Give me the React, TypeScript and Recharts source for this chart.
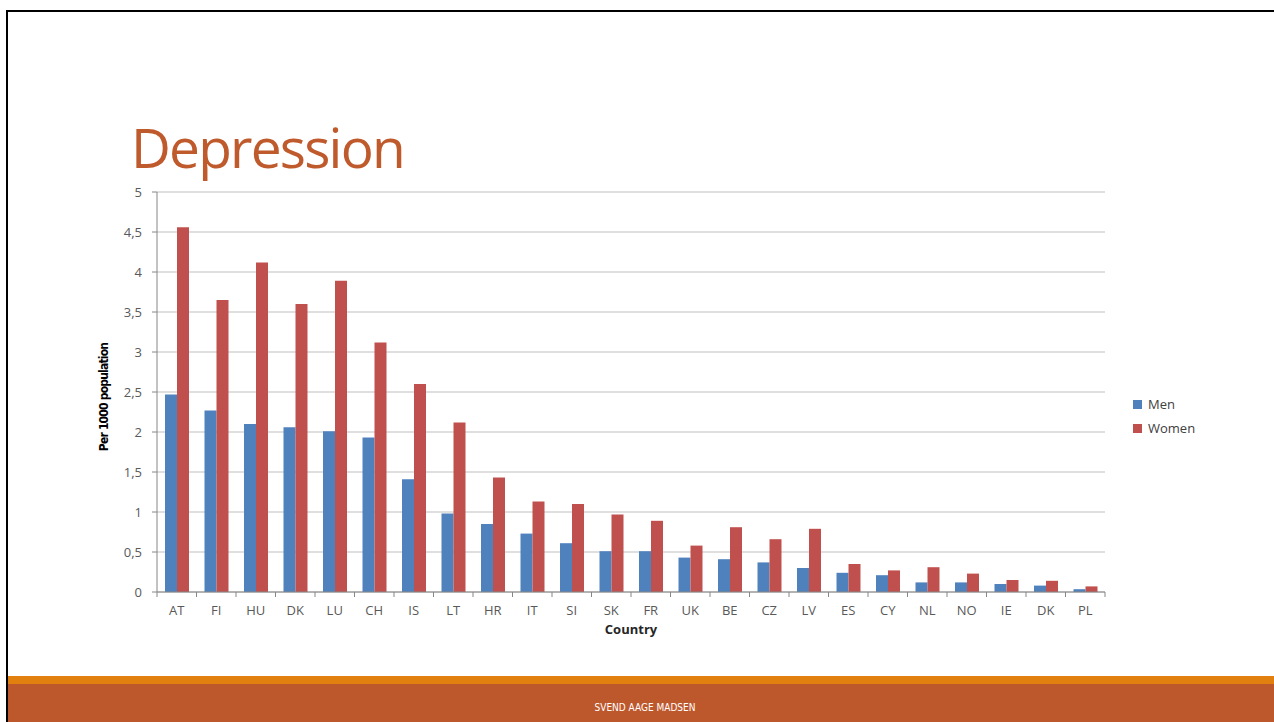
import { BarChart, Bar, XAxis, YAxis, CartesianGrid, Label } from 'recharts'

const COUNTRIES = [
  'AT', 'FI', 'HU', 'DK', 'LU', 'CH', 'IS', 'LT', 'HR', 'IT', 'SI', 'SK',
  'FR', 'UK', 'BE', 'CZ', 'LV', 'ES', 'CY', 'NL', 'NO', 'IE', 'DK', 'PL',
]
const MEN = [
  2.47, 2.27, 2.1, 2.06, 2.01, 1.93, 1.41, 0.98, 0.85, 0.73, 0.61, 0.51,
  0.51, 0.43, 0.41, 0.37, 0.3, 0.24, 0.21, 0.12, 0.12, 0.1, 0.08, 0.035,
]
const WOMEN = [
  4.56, 3.65, 4.12, 3.6, 3.89, 3.12, 2.6, 2.12, 1.43, 1.13, 1.1, 0.97,
  0.89, 0.58, 0.81, 0.66, 0.79, 0.35, 0.27, 0.31, 0.23, 0.15, 0.14, 0.07,
]
const Y_TICKS = [0, 0.5, 1, 1.5, 2, 2.5, 3, 3.5, 4, 4.5, 5]
const SERIES = [
  { key: 'men', name: 'Men', color: '#4f81bd' },
  { key: 'women', name: 'Women', color: '#c0504d' },
]

const FONT = "'Open Sans', 'DejaVu Sans', sans-serif"
const NARROW = "'DejaVu Sans Condensed', 'Liberation Sans Narrow', 'Open Sans', sans-serif"

const rows = COUNTRIES.map((c, i) => ({ key: i, country: c, men: MEN[i], women: WOMEN[i] }))

// plot area: x 157..1105, y 192..592
const PLOT_W = 948
const BAND = PLOT_W / COUNTRIES.length

function CountryTick(props: any) {
  const { x, y, payload, index } = props
  const left = x - BAND / 2
  return (
    <g>
      <line x1={left} x2={left} y1={y} y2={y + 5} stroke="#868686" />
      {index === COUNTRIES.length - 1 && (
        <line x1={x + BAND / 2} x2={x + BAND / 2} y1={y} y2={y + 5} stroke="#868686" />
      )}
      <text x={x} y={y + 23} textAnchor="middle" fontSize={13} fill="#595959" fontFamily={FONT}>
        {COUNTRIES[payload.value] ?? payload.value}
      </text>
    </g>
  )
}

function LegendBox() {
  return (
    <div style={{ position: 'absolute', left: 1133, top: 392, fontFamily: FONT, fontSize: 13, color: '#404040' }}>
      {SERIES.map((s) => (
        <div key={s.key} style={{ display: 'flex', alignItems: 'center', height: 24 }}>
          <span style={{ width: 9, height: 9, background: s.color, marginRight: 6 }} />
          {s.name}
        </div>
      ))}
    </div>
  )
}

export default function App() {
  return (
    <div style={{ position: 'absolute', left: 0, top: 0, width: 1274, height: 722, background: '#fff', overflow: 'hidden' }}>
      {/* slide frame */}
      <div style={{ position: 'absolute', left: 6, top: 10, right: 0, height: 2, background: '#000' }} />
      <div style={{ position: 'absolute', left: 6, top: 10, width: 2, bottom: 0, background: '#000' }} />

      <div
        style={{
          position: 'absolute',
          left: 131,
          top: 122,
          fontFamily: FONT,
          fontSize: 55,
          letterSpacing: -1.8,
          color: '#bf5a2c',
          lineHeight: '50px',
        }}
      >
        Depression
      </div>

      <div style={{ position: 'absolute', left: 0, top: 0 }}>
        <BarChart
          width={1274}
          height={722}
          data={rows}
          margin={{ top: 192, right: 169, left: 117, bottom: 100 }}
          barGap={0}
          barSize={12}
        >
          <CartesianGrid vertical={false} stroke="#bfbfbf" />
          <XAxis
            dataKey="key"
            axisLine={{ stroke: '#868686' }}
            tickLine={false}
            tickSize={0}
            tickMargin={0}
            height={30}
            interval={0}
            tick={<CountryTick />}
          >
            <Label
              content={() => (
                <text x={631} y={634} textAnchor="middle" fontSize={13} fontWeight="bold" fill="#262626" fontFamily={FONT}>
                  Country
                </text>
              )}
            />
          </XAxis>
          <YAxis
            width={40}
            domain={[0, 5]}
            ticks={Y_TICKS}
            interval={0}
            axisLine={{ stroke: '#868686' }}
            tickLine={{ stroke: '#868686' }}
            tickSize={5}
            tickMargin={10}
            tick={{ fontSize: 13, fill: '#595959', fontFamily: FONT }}
            tickFormatter={(v: number) => String(v).replace('.', ',')}
          >
            <Label
              content={() => (
                <text
                  x={108}
                  y={397}
                  transform="rotate(-90 108 397)"
                  textAnchor="middle"
                  fontSize={12}
                  fontWeight="bold"
                  fill="#000"
                  fontFamily={NARROW}
                  letterSpacing={-0.8}
                >
                  Per 1000 population
                </text>
              )}
            />
          </YAxis>
          {SERIES.map((s) => (
            <Bar key={s.key} dataKey={s.key} name={s.name} fill={s.color} isAnimationActive={false} />
          ))}
        </BarChart>
      </div>
      <LegendBox />

      {/* footer band */}
      <div style={{ position: 'absolute', left: 8, right: 0, top: 676, height: 8, background: '#e2800f' }} />
      <div
        style={{
          position: 'absolute',
          left: 8,
          right: 0,
          top: 684,
          bottom: 0,
          background: '#bd582c',
          color: '#fff',
          fontFamily: NARROW,
          fontSize: 10,
          textAlign: 'center',
          lineHeight: '48px',
          paddingLeft: 8,
        }}
      >
        SVEND AAGE MADSEN
      </div>
    </div>
  )
}
